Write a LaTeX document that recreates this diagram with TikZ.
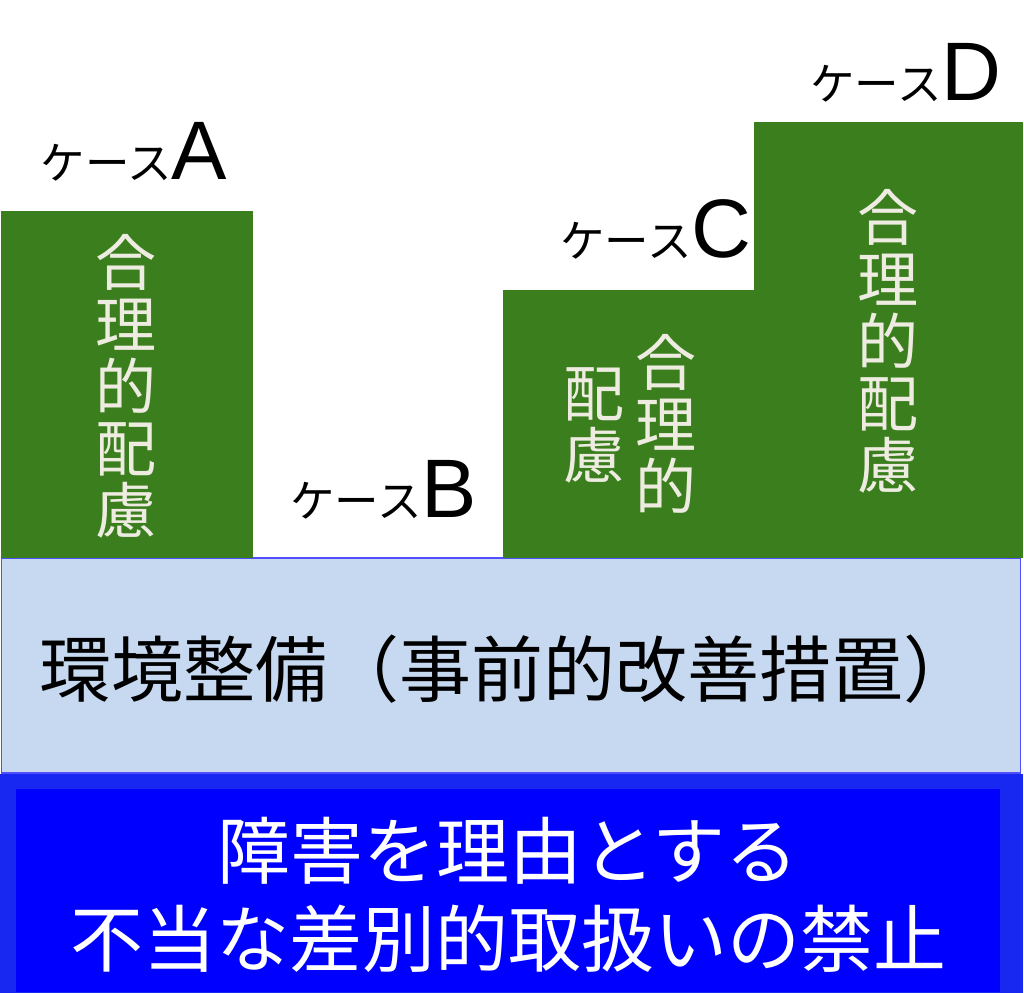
\documentclass[tikz,border=0pt]{standalone}
\usepackage{fontspec}
\newfontfamily\jpfont{Noto Sans CJK JP}
\newfontfamily\latfont{Liberation Sans}
\definecolor{gbox}{RGB}{58,126,30}
\definecolor{envfill}{RGB}{198,217,240}
\definecolor{envline}{RGB}{80,80,255}
\definecolor{outerblue}{RGB}{25,40,240}
\definecolor{innerblue}{RGB}{0,0,255}
\definecolor{cream}{RGB}{238,236,225}
\newcommand\kanasz{\jpfont\fontsize{44.5}{44.5}\selectfont}
\newcommand\capsz{\latfont\fontsize{83}{83}\selectfont}
\begin{document}
\begin{tikzpicture}[x=1pt,y=-1pt,
  box/.style={inner sep=0pt,outer sep=0pt,anchor=north west},
  greenbox/.style={box,fill=gbox},
  lbl/.style={inner sep=0pt,anchor=base west,text=black},
  vtext/.style={inner sep=0pt,align=center,text=cream,font=\jpfont\fontsize{61}{62}\selectfont}]
\useasboundingbox (0,0) rectangle (1024,992);
\fill[white] (0,0) rectangle (1024,992);
% environment box
\node[box,fill=envfill,draw=envline,line width=1.5pt,minimum width=1019pt,minimum height=215pt] (env) at (1.5,558) {};
% blue bottom
\node[box,fill=outerblue,minimum width=1023pt,minimum height=219pt] (outer) at (0,773.5) {};
\node[box,fill=innerblue,minimum width=984pt,minimum height=203pt] (inner) at (16,789) {};
% green boxes
\node[greenbox,minimum width=252pt,minimum height=347pt] (boxA) at (1,211) {};
\node[greenbox,minimum width=252pt,minimum height=268pt] (boxC) at (503,290) {};
\node[greenbox,minimum width=269pt,minimum height=436pt] (boxD) at (754,122) {};
% vertical texts
\node[vtext] (colA) at (126,386.5) {合\\理\\的\\配\\慮};
\node[vtext] (colC1) at (666,424) {合\\理\\的};
\node[vtext] (colC2) at (594,425.5) {配\\慮};
\node[vtext] (colD) at (887.5,341.5) {合\\理\\的\\配\\慮};
% case labels
\node[lbl] (labA) at (40.5,180) {\kanasz ケース\capsz A};
\node[lbl] (labB) at (290,517) {\kanasz ケース\capsz B};
\node[lbl] (labC) at (560,258) {\kanasz ケース\capsz C};
\node[lbl] (labD) at (810,101) {\kanasz ケース\capsz D};
% middle text
\node[inner sep=0pt,anchor=west,font=\jpfont\fontsize{72}{72}\selectfont,text=black] (envtext) at (39,669) {環境整備（事前的改善措置）};
% bottom text
\node[inner sep=0pt,align=center,font=\jpfont\fontsize{73}{88}\selectfont,text=white] (bantext) at (508,895) {障害を理由とする\\不当な差別的取扱いの禁止};
\end{tikzpicture}
\end{document}
